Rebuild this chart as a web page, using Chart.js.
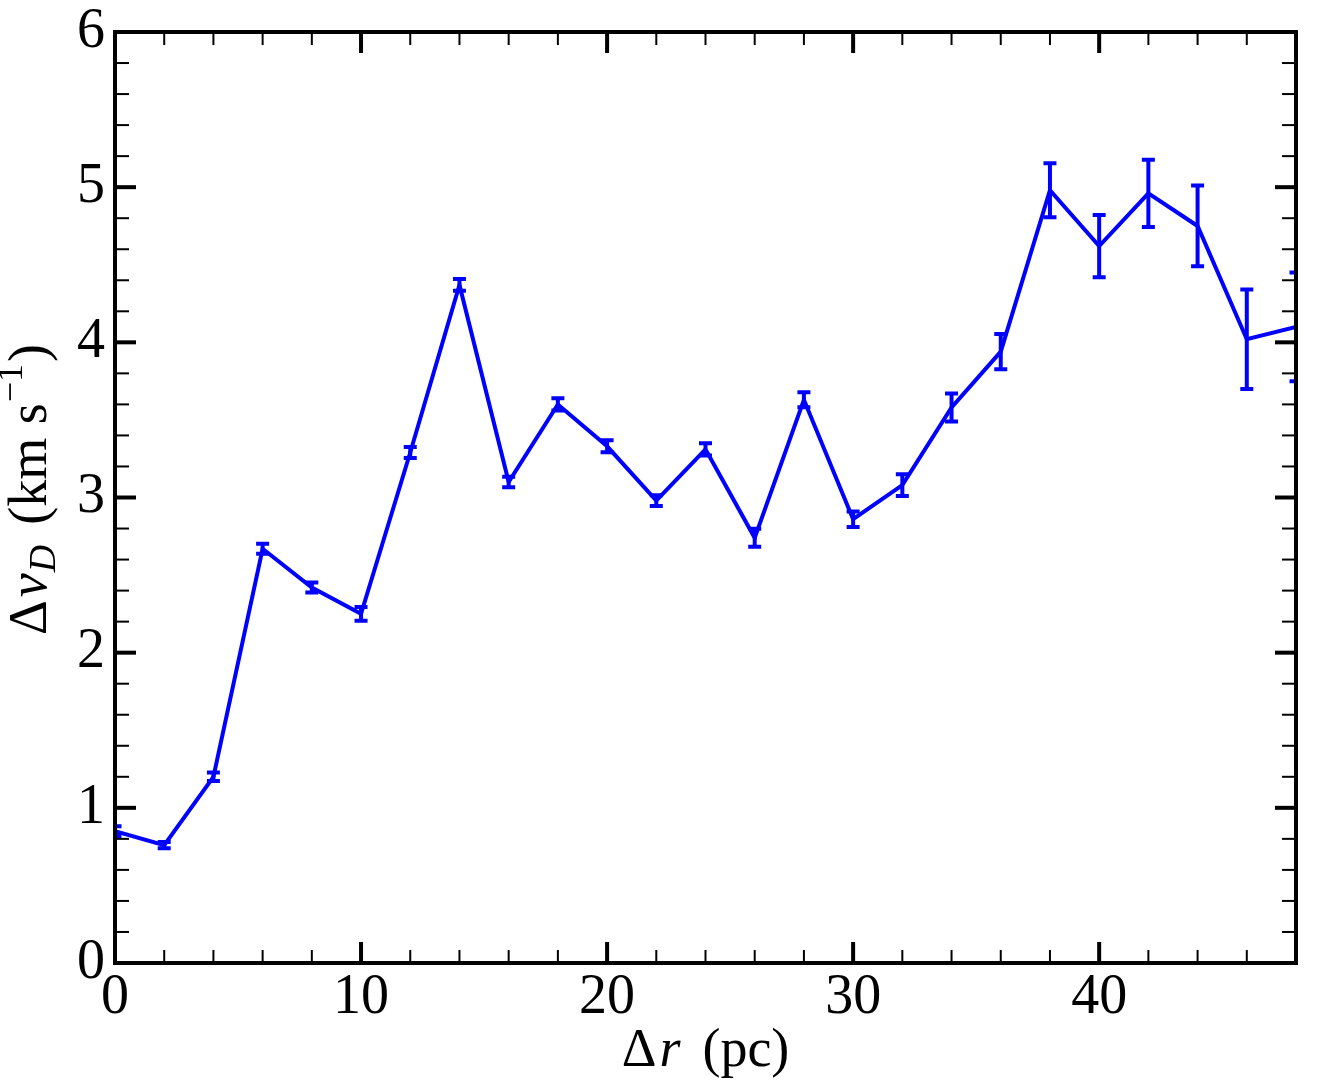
<!DOCTYPE html>
<html>
<head>
<meta charset="utf-8">
<script src="https://cdn.jsdelivr.net/npm/chart.js@4.4.1/dist/chart.umd.min.js"></script>
<style>
  html, body { margin: 0; padding: 0; background: #ffffff; }
  canvas { display: block; }
</style>
</head>
<body>
<canvas id="chart" width="1336" height="1087"></canvas>
<script>
// Separation (pc)
const dr = [0, 2, 4, 6, 8, 10, 12, 14, 16, 18, 20, 22, 24, 26, 28, 30, 32, 34, 36, 38, 40, 42, 44, 46, 48];
// Delta v_D (km/s)
const dv = [0.85, 0.76, 1.20, 2.67, 2.42, 2.25, 3.29, 4.37, 3.10, 3.60, 3.33, 2.98, 3.31, 2.74, 3.63, 2.86,
            3.08, 3.58, 3.94, 4.98, 4.62, 4.96, 4.75, 4.02, 4.10];
// symmetric error bars
const dvErr = [0.032, 0.02, 0.027, 0.032, 0.032, 0.045, 0.035, 0.038, 0.034, 0.04, 0.039, 0.034, 0.039, 0.058,
               0.048, 0.05, 0.07, 0.09, 0.114, 0.174, 0.2, 0.217, 0.26, 0.32, 0.35];

const xTicks = [0, 10, 20, 30, 40];
const yTicks = [0, 1, 2, 3, 4, 5, 6];

const BLUE = '#0000ff';
const SERIF = '"Liberation Serif", "DejaVu Serif", serif';

// error bars drawn through the chart's scales
const errorBars = {
  id: 'errorBars',
  afterDatasetsDraw(chart) {
    const { ctx, chartArea, scales: { x, y } } = chart;
    ctx.save();
    ctx.beginPath();
    ctx.rect(chartArea.left, chartArea.top, chartArea.right - chartArea.left, chartArea.bottom - chartArea.top);
    ctx.clip();
    ctx.strokeStyle = BLUE;
    ctx.lineWidth = 4;
    const cap = 6.5;
    dr.forEach((v, i) => {
      const px = x.getPixelForValue(v);
      const top = y.getPixelForValue(dv[i] + dvErr[i]);
      const bot = y.getPixelForValue(dv[i] - dvErr[i]);
      ctx.beginPath();
      ctx.moveTo(px, top); ctx.lineTo(px, bot);
      ctx.moveTo(px - cap, top); ctx.lineTo(px + cap, top);
      ctx.moveTo(px - cap, bot); ctx.lineTo(px + cap, bot);
      ctx.stroke();
    });
    ctx.restore();
  }
};

// draws a run of text pieces with their own fonts, centred on 0
function drawPieces(ctx, pieces) {
  let total = 0;
  pieces.forEach(p => { ctx.font = p.font; p.w = ctx.measureText(p.text).width; total += p.w + (p.gap || 0); });
  let cx = -total / 2;
  pieces.forEach(p => {
    ctx.font = p.font;
    ctx.fillText(p.text, cx, p.dy || 0);
    cx += p.w + (p.gap || 0);
  });
}

// frame, inward ticks on all four sides and the axis titles
const frame = {
  id: 'frame',
  afterDraw(chart) {
    const { ctx, chartArea: a, scales: { x, y } } = chart;
    ctx.save();
    ctx.strokeStyle = '#000';
    ctx.lineCap = 'butt';

    const tick = (x1, y1, x2, y2, w) => {
      ctx.lineWidth = w;
      ctx.beginPath(); ctx.moveTo(x1, y1); ctx.lineTo(x2, y2); ctx.stroke();
    };
    for (let v = 0; v <= 48; v += 2) {
      const px = x.getPixelForValue(v);
      const major = v % 10 === 0;
      const len = major ? 21 : 13, w = major ? 4 : 2;
      tick(px, a.bottom, px, a.bottom - len, w);
      tick(px, a.top, px, a.top + len, w);
    }
    for (let k = 0; k <= 30; k++) {
      const py = y.getPixelForValue(k * 0.2);
      const major = k % 5 === 0;
      const len = major ? 21 : 14, w = major ? 4 : 2;
      tick(a.left, py, a.left + len, py, w);
      tick(a.right, py, a.right - len, py, w);
    }
    ctx.lineWidth = 4;
    ctx.strokeRect(a.left, a.top, a.right - a.left, a.bottom - a.top);

    ctx.fillStyle = '#000';
    ctx.textBaseline = 'alphabetic';
    ctx.textAlign = 'left';
    const up = `54px ${SERIF}`, it = `italic 54px ${SERIF}`;
    const sub = `italic 38px ${SERIF}`, sup = `36px ${SERIF}`;

    // x title
    ctx.save();
    ctx.translate((a.left + a.right) / 2, 1066);
    drawPieces(ctx, [
      { text: 'Δ', font: up, gap: 3 },
      { text: 'r', font: it, gap: 22 },
      { text: '(pc)', font: up }
    ]);
    ctx.restore();

    // y title
    ctx.save();
    ctx.translate(46, (a.top + a.bottom) / 2 - 8);
    ctx.rotate(-Math.PI / 2);
    drawPieces(ctx, [
      { text: 'Δ', font: up, gap: 3 },
      { text: 'v', font: it, gap: 1 },
      { text: 'D', font: sub, dy: 9, gap: 20 },
      { text: '(km s', font: up, gap: 1 },
      { text: '−1', font: sup, dy: -24, gap: 2 },
      { text: ')', font: up }
    ]);
    ctx.restore();

    ctx.restore();
  }
};

new Chart(document.getElementById('chart'), {
  type: 'line',
  data: {
    datasets: [{
      data: dr.map((v, i) => ({ x: v, y: dv[i] })),
      borderColor: BLUE,
      borderWidth: 4,
      pointRadius: 0,
      tension: 0,
      fill: false,
      clip: 0
    }]
  },
  options: {
    responsive: false,
    animation: false,
    layout: { padding: { top: 32, right: 40, left: 0, bottom: 0 } },
    plugins: { legend: { display: false }, tooltip: { enabled: false } },
    scales: {
      x: {
        type: 'linear',
        min: 0,
        max: 48,
        afterBuildTicks: s => { s.ticks = xTicks.map(v => ({ value: v })); },
        afterFit: s => { s.height = 124; s.paddingLeft = 0; s.paddingRight = 0; },
        grid: { display: false, drawTicks: false },
        border: { display: false },
        ticks: { color: '#000', font: { family: SERIF, size: 56 }, padding: 2, maxRotation: 0, autoSkip: false }
      },
      y: {
        type: 'linear',
        min: 0,
        max: 6,
        afterBuildTicks: s => { s.ticks = yTicks.map(v => ({ value: v })); },
        afterFit: s => { s.width = 115; s.paddingTop = 0; s.paddingBottom = 0; },
        grid: { display: false, drawTicks: false },
        border: { display: false },
        ticks: { color: '#000', font: { family: SERIF, size: 56 }, padding: 10, autoSkip: false }
      }
    }
  },
  plugins: [errorBars, frame]
});
</script>
</body>
</html>
